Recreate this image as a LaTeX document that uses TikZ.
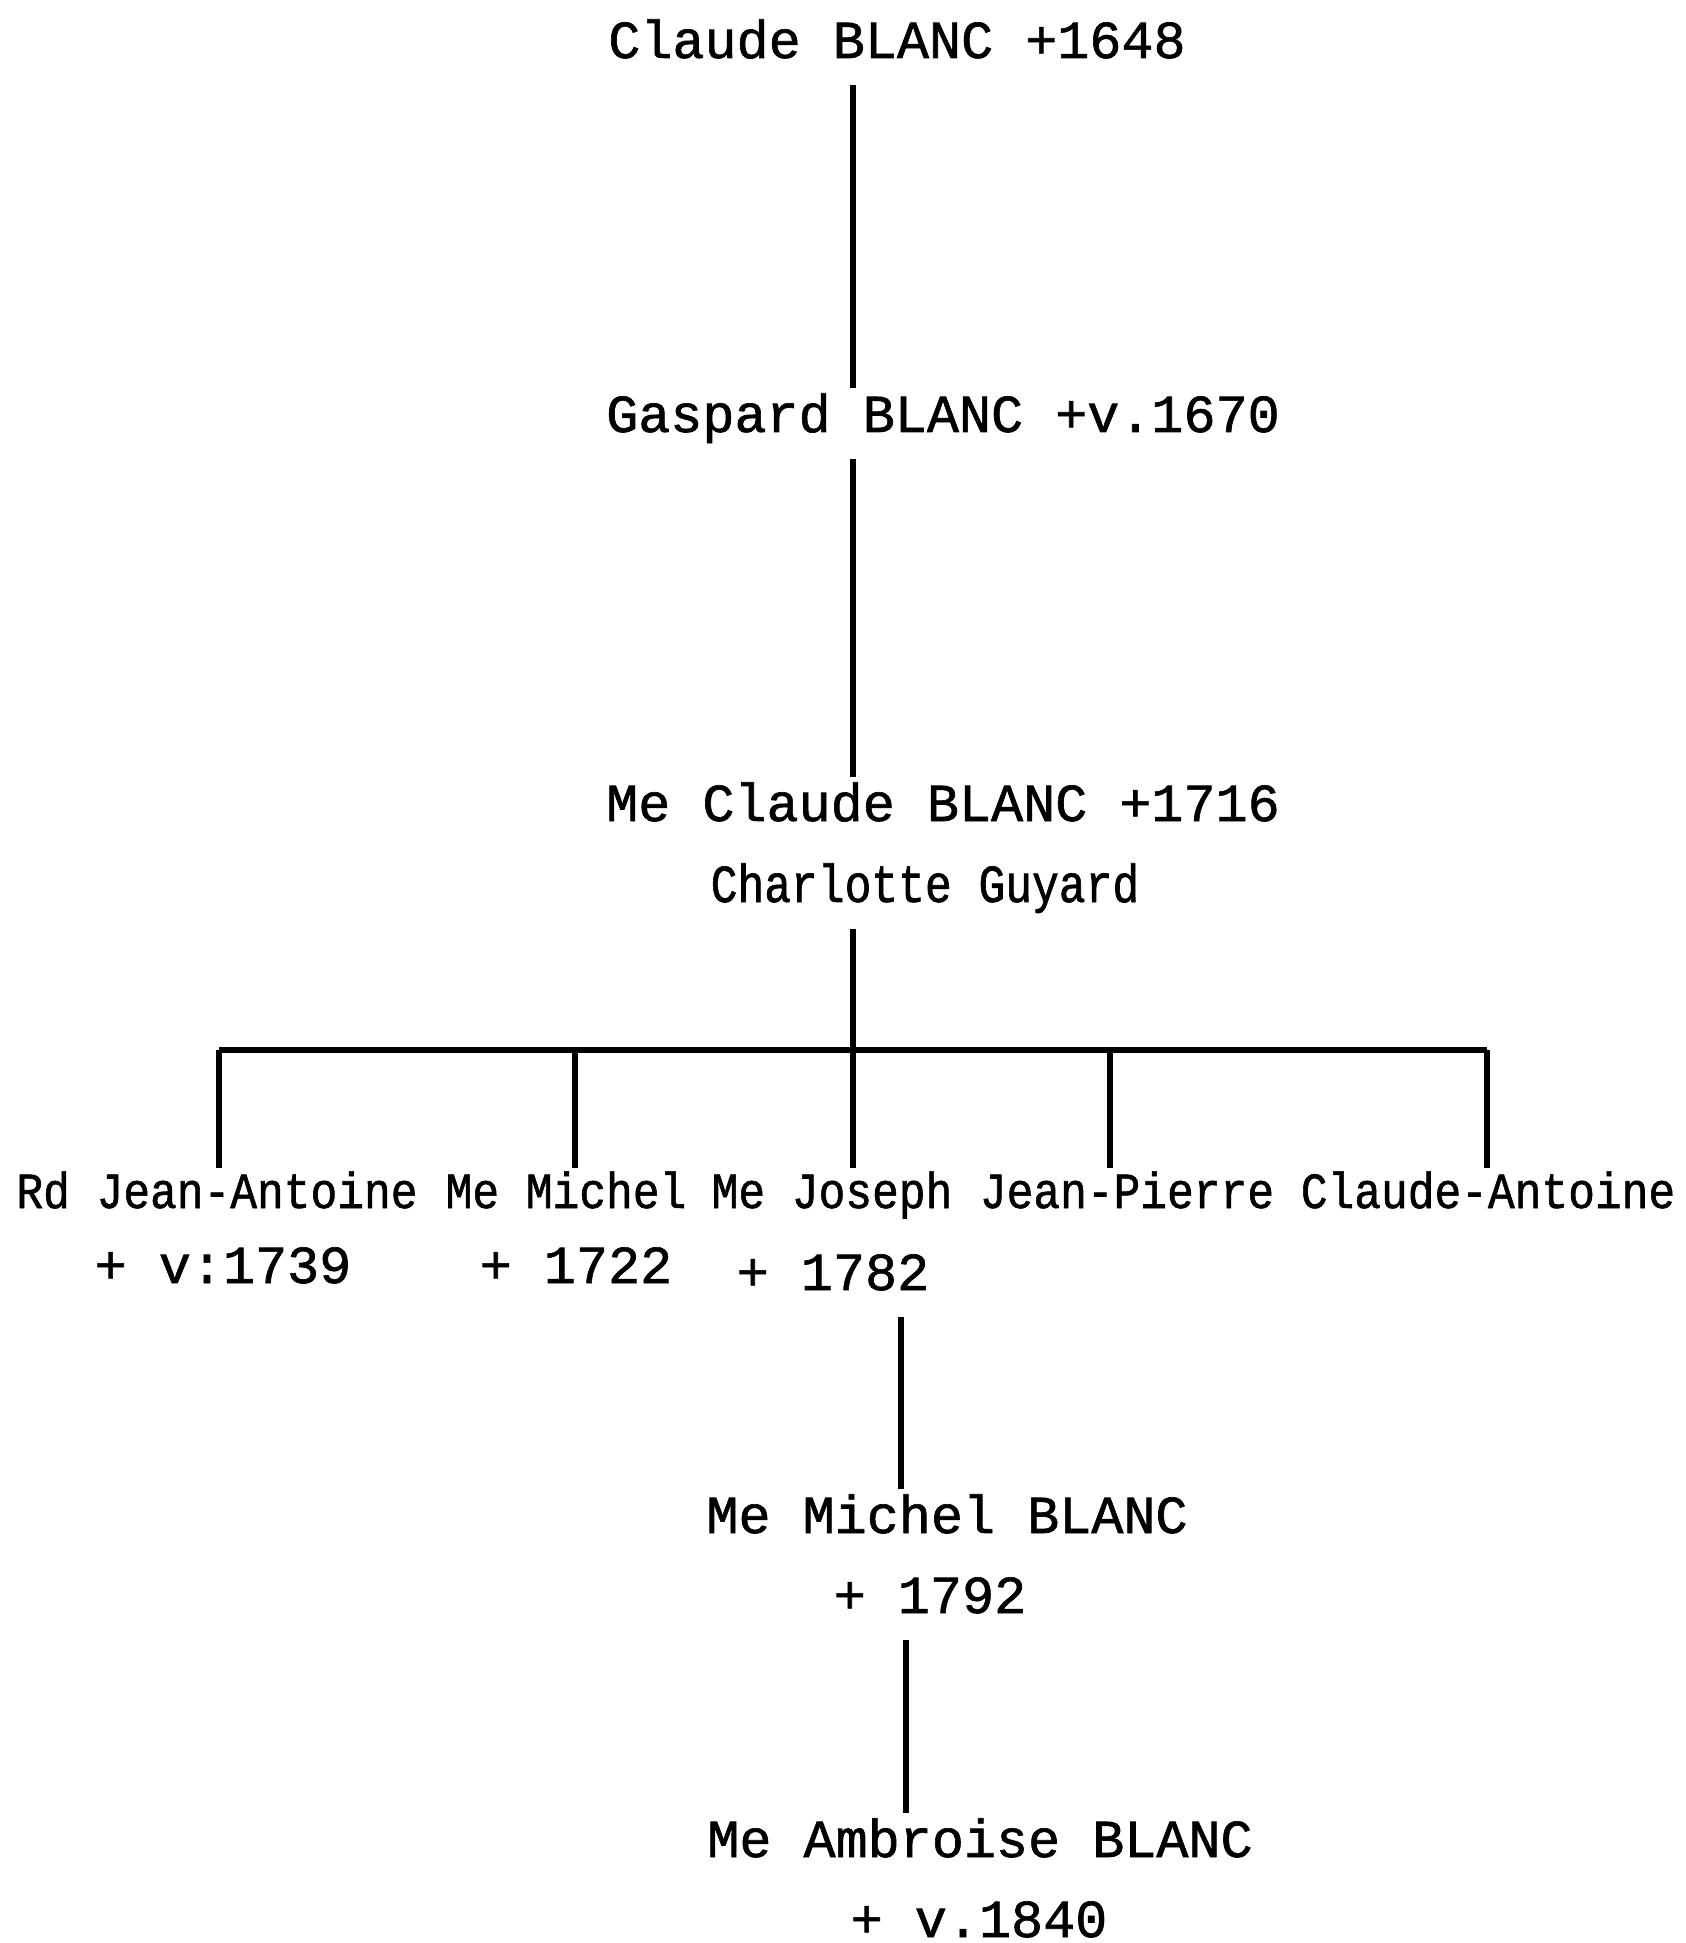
\documentclass[tikz,border=0pt]{standalone}
\usepackage{fontspec}
\setmonofont{Liberation Mono}[FakeBold=1.2]
\newfontfamily\wifettt{Liberation Mono}[FakeBold=1.2,FakeStretch=0.835]
\newfontfamily\childtt{Liberation Mono}[FakeBold=1.1,FakeStretch=0.88]
\tikzset{
  gen name/.style={font=\ttfamily\fontsize{15.2}{18}\selectfont,anchor=base,inner sep=0.08cm,text height=0.35cm,text depth=0.18cm},
  gen wife/.style={gen name,font=\wifettt\fontsize{15.2}{18}\selectfont},
  gen child/.style={gen name,font=\childtt\fontsize{14.4}{17}\selectfont,text height=0.31cm},
  gen line/.style={line width=1.5pt},
}

\begin{document}
\begin{tikzpicture}[x=0.01cm,y=-0.01cm]
  \useasboundingbox (0,0) rectangle (1686,1943);
  % ancestors
  \node[gen name] (claude) at (897,58) {Claude BLANC +1648};
  \node[gen name] (gaspard) at (943,432) {Gaspard BLANC +v.1670};
  \node[gen name] (meclaude) at (943,821) {Me Claude BLANC +1716};
  \node[gen wife] (charlotte) at (925,902) {Charlotte Guyard};
  % children
  \node[gen child] (jeanant) at (217,1208) {Rd Jean-Antoine};
  \node[gen child] (michel) at (566,1208) {Me Michel};
  \node[gen child] (joseph) at (832,1208) {Me Joseph};
  \node[gen child] (jeanpierre) at (1127,1208) {Jean-Pierre};
  \node[gen child] (claudeant) at (1488,1208) {Claude-Antoine};
  \node[gen name] (jeanantd) at (223,1283) {+ v:1739};
  \node[gen name] (micheld) at (576,1283) {+ 1722};
  \node[gen name] (josephd) at (833,1290) {+ 1782};
  % descendants
  \node[gen name] (michelb) at (947,1533) {Me Michel BLANC};
  \node[gen name] (michelbd) at (930,1613) {+ 1792};
  \node[gen name] (ambroise) at (980,1857) {Me Ambroise BLANC};
  \node[gen name] (ambroised) at (979,1937) {+ v.1840};

  \coordinate (fork) at (853,1050);
  \draw[gen line] (claude.south -| fork) -- (gaspard.north -| fork);
  \draw[gen line] (gaspard.south -| fork) -- (meclaude.north -| fork);
  \draw[gen line] (charlotte.south -| fork) -- (fork);
  \draw[gen line] (fork -| 219,0) -- (fork -| 1487,0);
  \foreach \n/\x in {jeanant/219,michel/575,joseph/853,jeanpierre/1110,claudeant/1487}
    \draw[gen line] (fork -| \x,0) -- (\n.north -| \x,0);
  \draw[gen line] (josephd.south -| 901,0) -- (michelb.north -| 901,0);
  \draw[gen line] (michelbd.south -| 906,0) -- (ambroise.north -| 906,0);
\end{tikzpicture}
\end{document}
